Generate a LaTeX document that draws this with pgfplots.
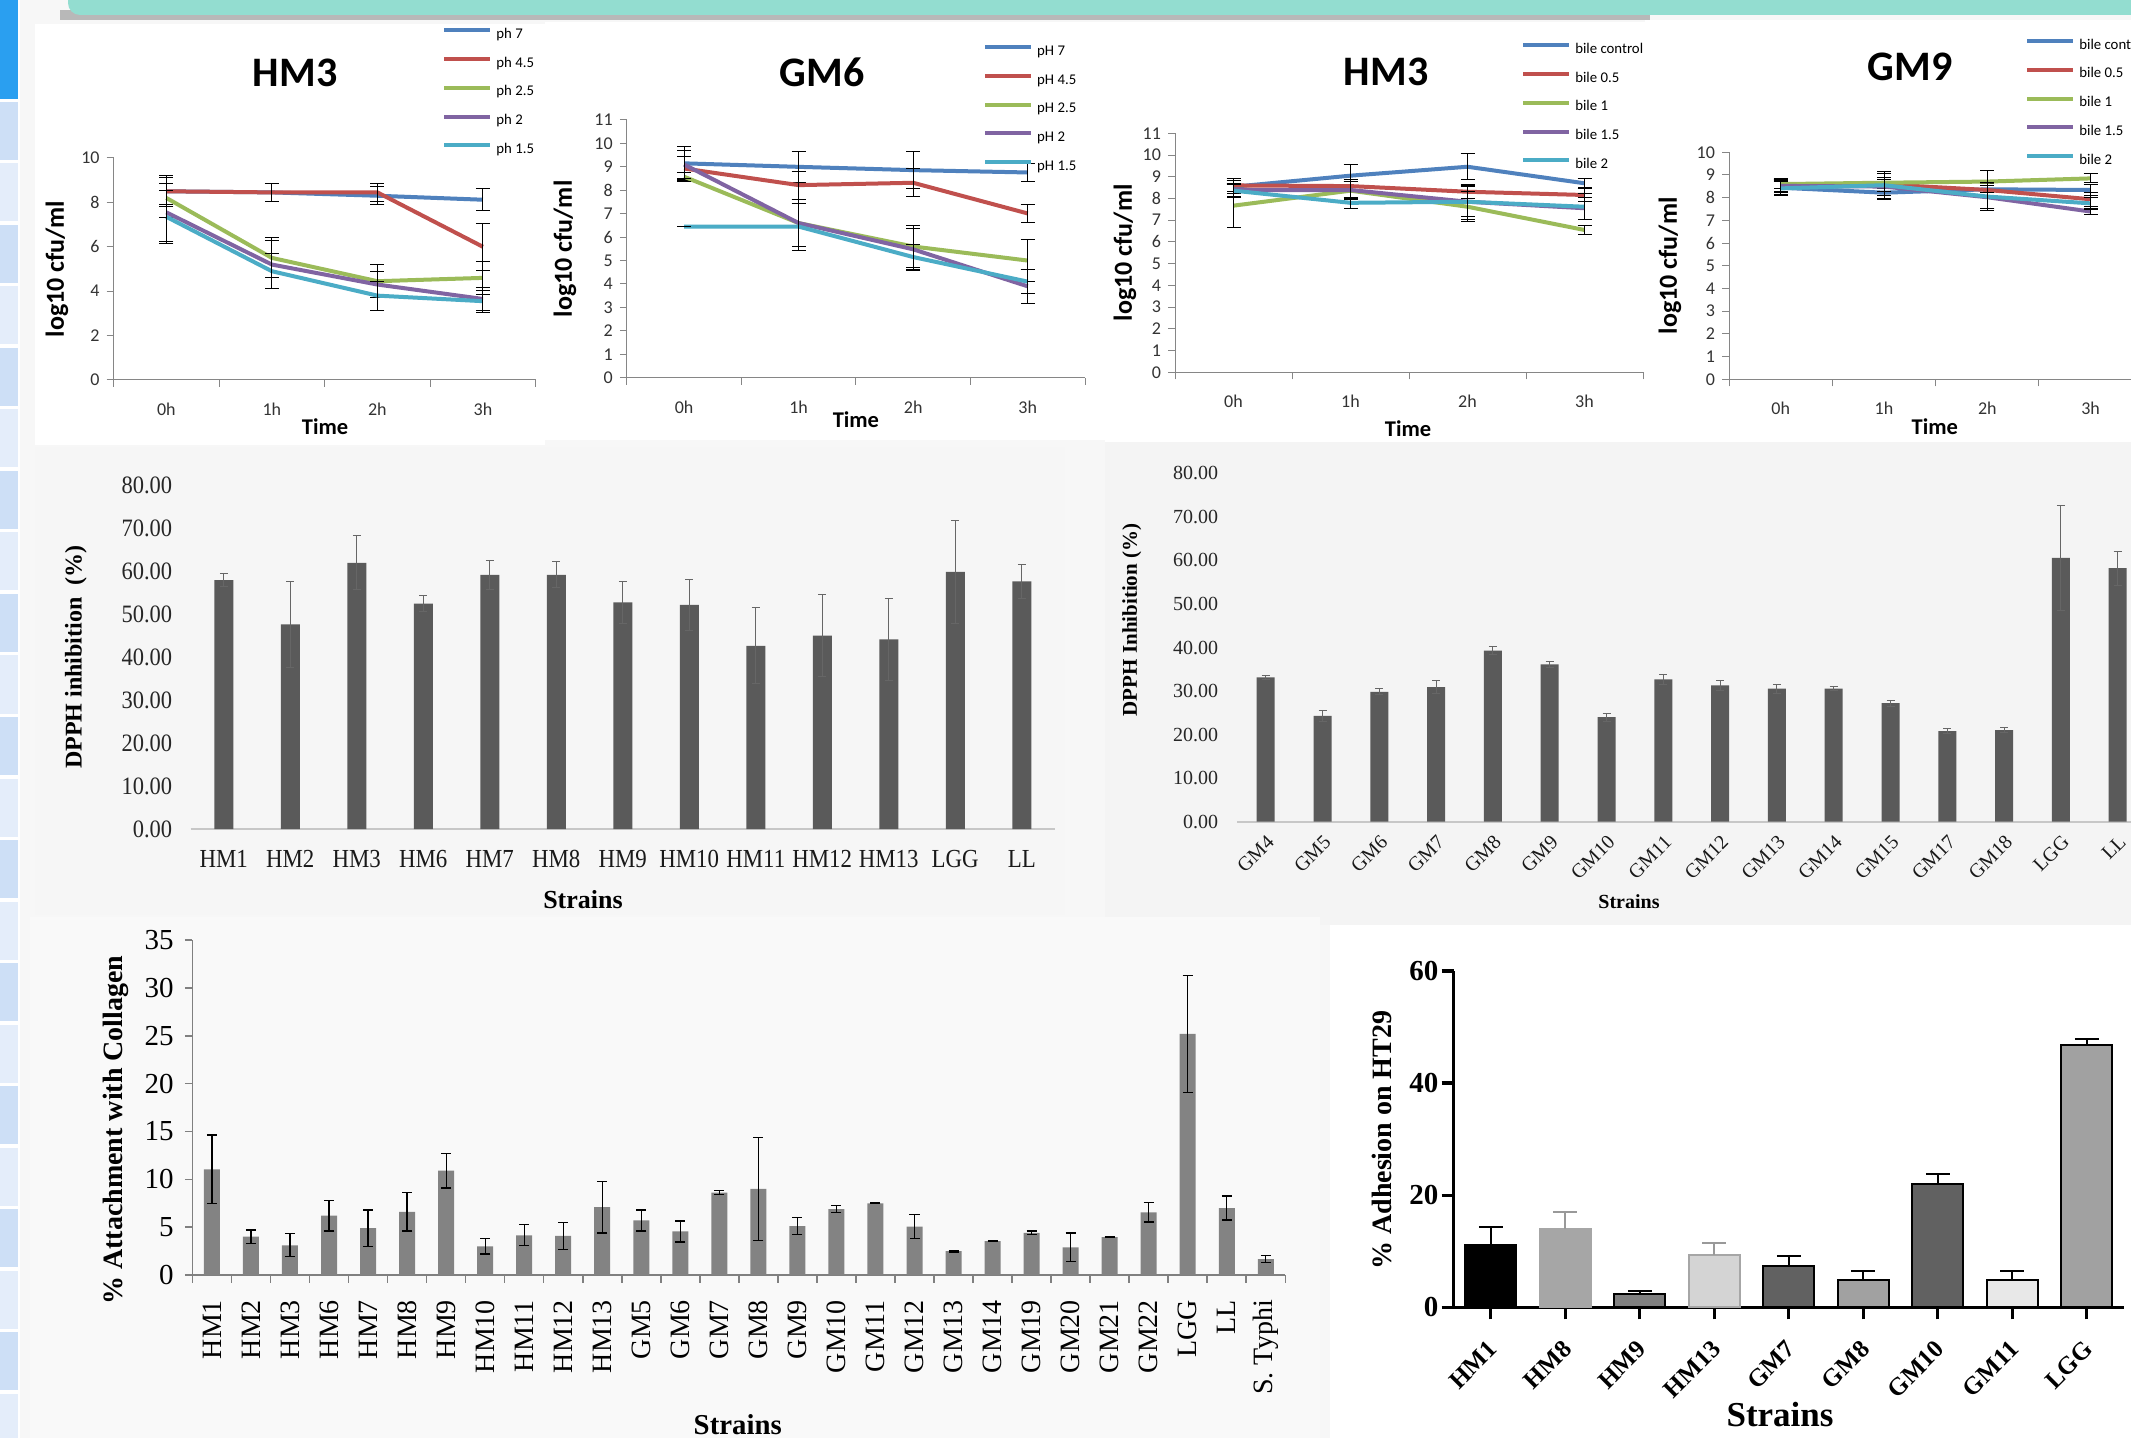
\documentclass[border=0pt]{standalone}
\usepackage{fontspec}
\setmainfont{Liberation Serif}
\newfontfamily\carlito{Carlito}
\usepackage{pgfplots}
\pgfplotsset{compat=1.18}

\definecolor{xblue}{HTML}{4F81BD}
\definecolor{xred}{HTML}{C0504D}
\definecolor{xgreen}{HTML}{9BBB59}
\definecolor{xpurple}{HTML}{8064A2}
\definecolor{xcyan}{HTML}{4BACC6}
\definecolor{axgray}{HTML}{868686}
\definecolor{bardark}{HTML}{5A5A5A}
\definecolor{barmid}{HTML}{838383}
\definecolor{pagebg}{HTML}{F7F7F7}
\definecolor{stripA}{HTML}{CDDFF6}
\definecolor{stripB}{HTML}{E4EDFA}
\definecolor{stripTop}{HTML}{2A9FF0}
\definecolor{tealc}{HTML}{93DDD0}

\pgfplotsset{
 eb/.style={/pgfplots/error bars/y dir=both, /pgfplots/error bars/y explicit,
   /pgfplots/error bars/error bar style={black, line width=0.5pt},
   /pgfplots/error bars/error mark options={black, rotate=90, mark size=3.5pt, line width=0.5pt}},
 timeaxis/.style={
  scale only axis, anchor=south west,
  xmin=-0.5, xmax=3.5, ymin=0,
  axis x line*=bottom, axis y line*=left,
  axis line style={draw=axgray, line width=0.5pt},
  every tick/.style={draw=axgray, line width=0.5pt},
  tick align=outside, major tick length=3.5pt,
  xtick={-0.5,0.5,1.5,2.5,3.5}, xticklabels={},
  extra x ticks={0,1,2,3}, extra x tick labels={0h,1h,2h,3h},
  extra x tick style={major tick length=0pt},
  tick label style={font=\carlito\fontsize{9}{9}\selectfont, text=black!80},
  xticklabel style={yshift=-8pt},
  /pgf/number format/assume math mode=true,
  ylabel={log10 cfu/ml},
  xlabel={Time},
  ylabel style={anchor=center, font=\carlito\bfseries\fontsize{13}{13}\selectfont},
  xlabel style={anchor=center, font=\carlito\bfseries\fontsize{11.25}{11.25}\selectfont},
  title style={font=\carlito\bfseries\fontsize{21}{21}\selectfont, anchor=center, yshift=-6pt},
  legend cell align=left,
  legend style={anchor=north west, draw=none, fill=none, inner sep=0pt, row sep=7.35pt, column sep=2pt,
     font=\carlito\fontsize{7.4}{7.4}\selectfont,
     nodes={inner sep=0pt, text height=5.5pt, text depth=1.5pt}},
  legend image code/.code={\draw[#1, line width=2pt] (0pt,2pt) -- (23pt,2pt);},
  every axis plot/.append style={line width=2pt, no marks},
 },
 dpph/.style={
  scale only axis, anchor=south west, ymin=0, ymax=80, ytick={0,10,...,80},
  axis x line*=bottom, axis y line*=left,
  x axis line style={draw=black!22, line width=0.8pt}, y axis line style={draw=none},
  xtick style={draw=none}, ytick style={draw=none},
  scaled y ticks=false,
  /pgf/number format/assume math mode=true,
  yticklabel style={/pgf/number format/fixed, /pgf/number format/fixed zerofill, /pgf/number format/precision=2},
  ybar,
 },
}

\begin{document}
\begin{tikzpicture}
% ---------- background decoration (pixel units) ----------
\begin{scope}[x=0.5pt, y=-0.5pt]
 \fill[pagebg] (0,0) rectangle (2131,1438);
 \fill[white] (0,0) rectangle (20,1438);
 \fill[stripTop] (0,0) rectangle (18,99);
 \foreach \i in {0,...,10} {
   \fill[stripA] (0,{102+\i*123}) rectangle (18,{160+\i*123});
   \fill[stripB] (0,{163.5+\i*123}) rectangle (18,{221.5+\i*123});
 }
 \fill[black!28] (60,10) rectangle (1650,20);
 \fill[tealc, rounded corners=6pt] (68,-30) rectangle (2170,15);
 \fill[white] (35,24) rectangle (545,445);
 \fill[white] (545,22) rectangle (1105,440);
 \fill[white] (1105,22) rectangle (1645,448);
 \fill[white] (1645,20) rectangle (2131,445);
 \fill[black!3.5] (35,447) rectangle (1065,915);
 \fill[black!4.5] (1105,442) rectangle (2131,925);
 \fill[black!2.5] (30,917) rectangle (1320,1438);
 \fill[white] (1330,925) rectangle (2131,1438);
\end{scope}

% ---------- Panel 1: HM3 pH ----------
\begin{axis}[timeaxis, width=211.05pt, height=111pt, at={(56.8pt,-190pt)},
  ymax=10, ytick={0,2,...,10},
  title={HM3}, title style={at={(axis description cs:0.43,1.383)}},
  ylabel style={at={(axis description cs:-0.134,0.5)}},
  xlabel style={at={(axis description cs:0.501,-0.212)}},
  legend style={at={(axis description cs:0.778,1.59)}}]
\addplot[xblue, eb] coordinates {(0,8.5) +- (0,0.6) (1,8.45) +- (0,0.4) (2,8.3) +- (0,0.4) (3,8.12) +- (0,0.5)};
\addlegendentry{ph 7}
\addplot[xred, eb] coordinates {(0,8.5) +- (0,0.7) (1,8.45) +- (0,0.4) (2,8.45) +- (0,0.4) (3,6.0) +- (0,1.05)};
\addlegendentry{ph 4.5}
\addplot[xgreen, eb] coordinates {(0,8.2) +- (0,0.9) (1,5.5) +- (0,0.9) (2,4.45) +- (0,0.75) (3,4.6) +- (0,0.75)};
\addlegendentry{ph 2.5}
\addplot[xpurple, eb] coordinates {(0,7.55) +- (0,1.3) (1,5.2) +- (0,1.1) (2,4.3) +- (0,0.6) (3,3.65) +- (0,0.5)};
\addlegendentry{ph 2}
\addplot[xcyan, eb] coordinates {(0,7.35) +- (0,1.2) (1,4.9) +- (0,0.8) (2,3.8) +- (0,0.65) (3,3.55) +- (0,0.5)};
\addlegendentry{ph 1.5}
\end{axis}

% ---------- Panel 2: GM6 pH ----------
\begin{axis}[timeaxis, width=229.1pt, height=128.85pt, at={(313.4pt,-188.85pt)},
  ymax=11, ytick={0,1,...,11},
  title={GM6}, title style={at={(axis description cs:0.426,1.186)}},
  ylabel style={at={(axis description cs:-0.135,0.5)}},
  xlabel style={at={(axis description cs:0.5,-0.164)}},
  legend style={at={(axis description cs:0.777,1.295)}}]
\addplot[xblue, eb] coordinates {(0,9.15) +- (0,0.7) (1,9.0) +- (0,0.67) (2,8.86) +- (0,0.8) (3,8.76) +- (0,0.37)};
\addlegendentry{pH 7}
\addplot[xred, eb] coordinates {(0,8.93) +- (0,0.5) (1,8.22) +- (0,0.6) (2,8.32) +- (0,0.6) (3,7.01) +- (0,0.4)};
\addlegendentry{pH 4.5}
\addplot[xgreen, eb] coordinates {(0,8.58) +- (0,0.2) (1,6.6) +- (0,1.0) (2,5.6) +- (0,0.9) (3,5.0) +- (0,0.9)};
\addlegendentry{pH 2.5}
\addplot[xpurple, eb] coordinates {(0,9.1) +- (0,0.6) (1,6.6) +- (0,1.0) (2,5.48) +- (0,0.9) (3,3.9) +- (0,0.72)};
\addlegendentry{pH 2}
\addplot[xcyan, eb] coordinates {(0,6.45) +- (0,0.0) (1,6.45) +- (0,1.0) (2,5.15) +- (0,0.55) (3,4.1) +- (0,0.5)};
\addlegendentry{pH 1.5}
\end{axis}

% ---------- Panel 3: HM3 bile ----------
\begin{axis}[timeaxis, width=234pt, height=119.5pt, at={(587.5pt,-186.15pt)},
  ymax=11, ytick={0,1,...,11},
  title={HM3}, title style={at={(axis description cs:0.451,1.256)}},
  ylabel style={at={(axis description cs:-0.107,0.5)}},
  xlabel style={at={(axis description cs:0.498,-0.237)}},
  legend style={at={(axis description cs:0.739,1.382)}}]
\addplot[xblue, eb] coordinates {(0,8.54) +- (0,0.3) (1,9.05) +- (0,0.5) (2,9.46) +- (0,0.6) (3,8.7) +- (0,0.2)};
\addlegendentry{bile control}
\addplot[xred, eb] coordinates {(0,8.6) +- (0,0.3) (1,8.57) +- (0,0.3) (2,8.31) +- (0,0.3) (3,8.16) +- (0,0.3)};
\addlegendentry{bile 0.5}
\addplot[xgreen, eb] coordinates {(0,7.67) +- (0,1.0) (1,8.36) +- (0,0.4) (2,7.62) +- (0,0.7) (3,6.55) +- (0,0.2)};
\addlegendentry{bile 1}
\addplot[xpurple, eb] coordinates {(0,8.39) +- (0,0.3) (1,8.39) +- (0,0.4) (2,7.85) +- (0,0.7) (3,7.55) +- (0,0.5)};
\addlegendentry{bile 1.5}
\addplot[xcyan, eb] coordinates {(0,8.36) +- (0,0.3) (1,7.8) +- (0,0.25) (2,7.85) +- (0,0.8) (3,7.62) +- (0,0.6)};
\addlegendentry{bile 2}
\end{axis}

% ---------- Panel 4: GM9 bile ----------
\begin{axis}[timeaxis, width=206.65pt, height=113.5pt, at={(864.5pt,-189.65pt)},
  ymax=10, ytick={0,1,...,10},
  title={GM9}, title style={at={(axis description cs:0.438,1.376)}},
  ylabel style={at={(axis description cs:-0.143,0.5)}},
  xlabel style={at={(axis description cs:0.498,-0.21)}},
  legend style={at={(axis description cs:0.716,1.504)}}]
\addplot[xblue, eb] coordinates {(0,8.44) +- (0,0.3) (1,8.22) +- (0,0.3) (2,8.37) +- (0,0.85) (3,8.34) +- (0,0.25)};
\addlegendentry{bile control}
\addplot[xred, eb] coordinates {(0,8.56) +- (0,0.3) (1,8.59) +- (0,0.2) (2,8.34) +- (0,0.3) (3,7.93) +- (0,0.3)};
\addlegendentry{bile 0.5}
\addplot[xgreen, eb] coordinates {(0,8.6) +- (0,0.2) (1,8.66) +- (0,0.4) (2,8.71) +- (0,0.5) (3,8.85) +- (0,0.2)};
\addlegendentry{bile 1}
\addplot[xpurple, eb] coordinates {(0,8.52) +- (0,0.3) (1,8.49) +- (0,0.4) (2,8.02) +- (0,0.5) (3,7.39) +- (0,0.15)};
\addlegendentry{bile 1.5}
\addplot[xcyan, eb] coordinates {(0,8.41) +- (0,0.3) (1,8.55) +- (0,0.6) (2,8.05) +- (0,0.6) (3,7.75) +- (0,0.25)};
\addlegendentry{bile 2}
\end{axis}

% ---------- Panel 5: DPPH HM ----------
\begin{axis}[dpph, width=432.25pt, height=172pt, at={(95.25pt,-414.5pt)},
  xmin=-0.5, xmax=12.5, xtick={0,...,12},
  xticklabels={HM1,HM2,HM3,HM6,HM7,HM8,HM9,HM10,HM11,HM12,HM13,LGG,LL},
  yticklabel style={font=\fontsize{12.5}{12.5}\selectfont, text=black!85, xshift=-6pt, xscale=0.9},
  xticklabel style={font=\fontsize{13}{13}\selectfont, text=black!90, yshift=-3pt, xscale=0.88},
  ylabel={DPPH inhibition\ \ (\%)},
  ylabel style={at={(axis description cs:-0.1325,0.5)}, anchor=center, font=\bfseries\fontsize{12}{12}\selectfont},
  xlabel={Strains},
  xlabel style={at={(axis description cs:0.454,-0.206)}, anchor=center, font=\bfseries\fontsize{13}{13}\selectfont},
  bar width=9.5pt]
\addplot[fill=bardark, draw=none, /pgfplots/error bars/y dir=both, /pgfplots/error bars/y explicit,
  /pgfplots/error bars/error bar style={black!60, line width=0.5pt},
  /pgfplots/error bars/error mark options={black!60, rotate=90, mark size=2pt, line width=0.5pt}]
 coordinates {(0,57.9) +- (0,1.5) (1,47.6) +- (0,10) (2,61.9) +- (0,6.3) (3,52.4) +- (0,1.8)
   (4,59.1) +- (0,3.3) (5,59.1) +- (0,3.0) (6,52.7) +- (0,4.8) (7,52.1) +- (0,6.0)
   (8,42.6) +- (0,8.8) (9,45.0) +- (0,9.5) (10,44.1) +- (0,9.5) (11,59.8) +- (0,12.0) (12,57.6) +- (0,4.0)};
\end{axis}

% ---------- Panel 6: DPPH GM ----------
\begin{axis}[dpph, width=454.4pt, height=174.2pt, at={(618.65pt,-410.85pt)},
  xmin=-0.5, xmax=15.5, xtick={0,...,15},
  xticklabels={GM4,GM5,GM6,GM7,GM8,GM9,GM10,GM11,GM12,GM13,GM14,GM15,GM17,GM18,LGG,LL},
  yticklabel style={font=\fontsize{10}{10}\selectfont, text=black!85, xshift=-6pt},
  xticklabel style={font=\fontsize{10}{10}\selectfont, text=black!90, yshift=3pt, rotate=45, anchor=north east},
  ylabel={DPPH Inhibition\ (\%)},
  ylabel style={at={(axis description cs:-0.116,0.579)}, anchor=center, font=\bfseries\fontsize{10.5}{10.5}\selectfont},
  xlabel={Strains},
  xlabel style={at={(axis description cs:0.431,-0.23)}, anchor=center, font=\bfseries\fontsize{10}{10}\selectfont},
  bar width=9pt]
\addplot[fill=bardark, draw=none, /pgfplots/error bars/y dir=both, /pgfplots/error bars/y explicit,
  /pgfplots/error bars/error bar style={black!60, line width=0.5pt},
  /pgfplots/error bars/error mark options={black!60, rotate=90, mark size=2pt, line width=0.5pt}]
 coordinates {(0,33.15) +- (0,0.5) (1,24.3) +- (0,1.2) (2,29.8) +- (0,0.7) (3,30.9) +- (0,1.5)
   (4,39.3) +- (0,0.9) (5,36.1) +- (0,0.7) (6,24.0) +- (0,0.9) (7,32.7) +- (0,1.1)
   (8,31.3) +- (0,1.1) (9,30.55) +- (0,1.0) (10,30.55) +- (0,0.5) (11,27.2) +- (0,0.7)
   (12,20.8) +- (0,0.5) (13,21.05) +- (0,0.5) (14,60.6) +- (0,12.0) (15,58.2) +- (0,3.9)};
\end{axis}

% ---------- Panel 7: Collagen ----------
\begin{axis}[scale only axis, anchor=south west, width=546.45pt, height=167.4pt, at={(96.2pt,-637.5pt)},
  xmin=-0.5, xmax=27.5, ymin=0, ymax=35, ytick={0,5,...,35},
  axis x line*=bottom, axis y line*=left,
  axis line style={draw=black!50, line width=0.8pt},
  every tick/.style={draw=black!50, line width=0.8pt},
  tick align=outside, major tick length=3.8pt,
  xtick={-0.5,0.5,...,27.5}, xticklabels={},
  extra x ticks={0,1,...,27},
  extra x tick labels={HM1,HM2,HM3,HM6,HM7,HM8,HM9,HM10,HM11,HM12,HM13,GM5,GM6,GM7,GM8,GM9,GM10,GM11,GM12,GM13,GM14,GM19,GM20,GM21,GM22,LGG,LL,S. Typhi},
  extra x tick style={major tick length=0pt},
  /pgf/number format/assume math mode=true,
  yticklabel style={font=\fontsize{14.5}{14.5}\selectfont, xshift=-2pt},
  xticklabel style={font=\fontsize{14}{14}\selectfont, yshift=-9pt, rotate=90, anchor=east},
  ylabel={\% Attachment with Collagen},
  ylabel style={at={(axis description cs:-0.07,0.433)}, anchor=center, font=\bfseries\fontsize{14}{14}\selectfont},
  xlabel={Strains},
  xlabel style={at={(axis description cs:0.499,-0.448)}, anchor=center, font=\bfseries\fontsize{14.4}{14.4}\selectfont},
  ybar, bar width=8pt]
\addplot[fill=barmid, draw=none, /pgfplots/error bars/y dir=both, /pgfplots/error bars/y explicit,
  /pgfplots/error bars/error bar style={black, line width=0.6pt},
  /pgfplots/error bars/error mark options={black, rotate=90, mark size=2.5pt, line width=0.6pt}]
 coordinates {(0,11.04) +- (0,3.6) (1,4.0) +- (0,0.7) (2,3.1) +- (0,1.2) (3,6.2) +- (0,1.6)
   (4,4.9) +- (0,1.9) (5,6.6) +- (0,2.0) (6,10.9) +- (0,1.8) (7,3.0) +- (0,0.8)
   (8,4.15) +- (0,1.1) (9,4.1) +- (0,1.4) (10,7.1) +- (0,2.7) (11,5.7) +- (0,1.1)
   (12,4.55) +- (0,1.1) (13,8.6) +- (0,0.2) (14,9.0) +- (0,5.4) (15,5.1) +- (0,0.9)
   (16,6.9) +- (0,0.4) (17,7.5) +- (0,0.05) (18,5.05) +- (0,1.25) (19,2.5) +- (0,0.1)
   (20,3.55) +- (0,0.07) (21,4.4) +- (0,0.2) (22,2.9) +- (0,1.5) (23,3.95) +- (0,0.07)
   (24,6.55) +- (0,1.0) (25,25.2) +- (0,6.1) (26,7.0) +- (0,1.25) (27,1.65) +- (0,0.35)};
\end{axis}

% ---------- Panel 8: HT29 ----------
\begin{axis}[scale only axis, anchor=south west, width=335.25pt, height=168.15pt, at={(726.75pt,-653.65pt)},
  xmin=-0.5, xmax=8.5, ymin=0, ymax=60, ytick={0,20,40,60},
  axis x line*=bottom, axis y line*=left,
  axis line style={draw=black, line width=1.7pt},
  every tick/.style={draw=black, line width=1.7pt},
  tick align=outside, major tick length=6pt,
  xtick={0,...,8}, xticklabels={HM1,HM8,HM9,HM13,GM7,GM8,GM10,GM11,LGG},
  /pgf/number format/assume math mode=true,
  yticklabel style={font=\bfseries\fontsize{14.5}{14.5}\selectfont, xshift=2pt},
  xticklabel style={font=\bfseries\fontsize{12.5}{12.5}\selectfont, xshift=-2pt, yshift=-5pt, rotate=45, anchor=north east},
  ylabel={\% Adhesion on HT29},
  ylabel style={at={(axis description cs:-0.1066,0.497)}, anchor=center, font=\bfseries\fontsize{14}{14}\selectfont},
  xlabel={Strains},
  xlabel style={at={(axis description cs:0.487,-0.318)}, anchor=center, font=\bfseries\fontsize{17.5}{17.5}\selectfont},
  every axis plot/.append style={ybar, bar shift=0pt, bar width=25.35pt, line width=1pt,
     /pgfplots/error bars/y dir=plus, /pgfplots/error bars/y explicit}]
\addplot[fill=black, draw=black, /pgfplots/error bars/error bar style={black, line width=1pt},
  /pgfplots/error bars/error mark options={black, rotate=90, mark size=6pt, line width=1pt}]
  coordinates {(0,11.1) +- (0,3.2)};
\addplot[fill=black!35, draw=black!35, /pgfplots/error bars/error bar style={black!40, line width=1pt},
  /pgfplots/error bars/error mark options={black!40, rotate=90, mark size=6pt, line width=1pt}]
  coordinates {(1,13.9) +- (0,3.1)};
\addplot[fill=black!50, draw=black, /pgfplots/error bars/error bar style={black, line width=1pt},
  /pgfplots/error bars/error mark options={black, rotate=90, mark size=6pt, line width=1pt}]
  coordinates {(2,2.45) +- (0,0.45)};
\addplot[fill=black!17, draw=black!35, /pgfplots/error bars/error bar style={black!40, line width=1pt},
  /pgfplots/error bars/error mark options={black!40, rotate=90, mark size=6pt, line width=1pt}]
  coordinates {(3,9.4) +- (0,2.0)};
\addplot[fill=black!62, draw=black, /pgfplots/error bars/error bar style={black, line width=1pt},
  /pgfplots/error bars/error mark options={black, rotate=90, mark size=6pt, line width=1pt}]
  coordinates {(4,7.3) +- (0,1.9)};
\addplot[fill=black!37, draw=black, /pgfplots/error bars/error bar style={black, line width=1pt},
  /pgfplots/error bars/error mark options={black, rotate=90, mark size=6pt, line width=1pt}]
  coordinates {(5,4.85) +- (0,1.7)};
\addplot[fill=black!62, draw=black, /pgfplots/error bars/error bar style={black, line width=1pt},
  /pgfplots/error bars/error mark options={black, rotate=90, mark size=6pt, line width=1pt}]
  coordinates {(6,22.0) +- (0,1.7)};
\addplot[fill=black!9, draw=black, /pgfplots/error bars/error bar style={black, line width=1pt},
  /pgfplots/error bars/error mark options={black, rotate=90, mark size=6pt, line width=1pt}]
  coordinates {(7,4.9) +- (0,1.5)};
\addplot[fill=black!37, draw=black, /pgfplots/error bars/error bar style={black, line width=1pt},
  /pgfplots/error bars/error mark options={black, rotate=90, mark size=6pt, line width=1pt}]
  coordinates {(8,46.8) +- (0,1.1)};
\end{axis}

\pgfresetboundingbox
\path[use as bounding box] (0,0) rectangle (1065.5pt,-719pt);
\end{tikzpicture}
\end{document}
